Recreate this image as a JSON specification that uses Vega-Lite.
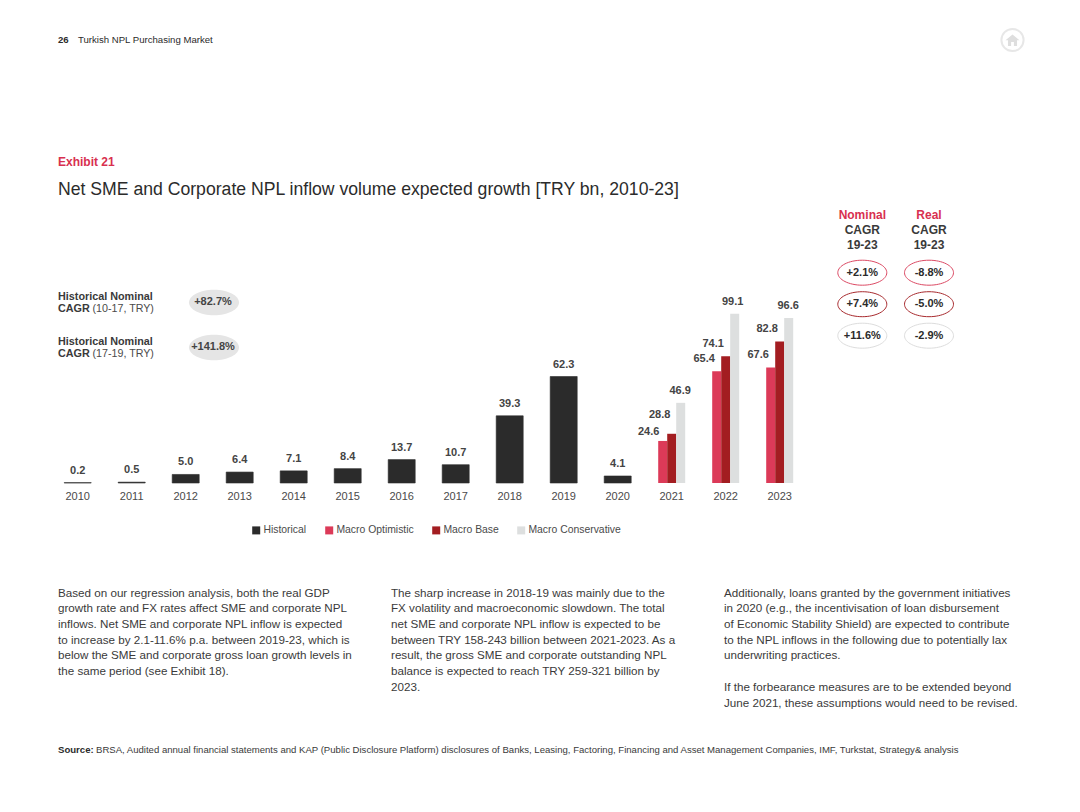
{
"$schema":"https://vega.github.io/schema/vega-lite/v6.json",
"width":756,"height":188,
"autosize":{"type":"none"},
"padding":{"left":50.7,"top":295,"right":273.3,"bottom":329},
"background":"white",
"config":{"view":{"stroke":null},"font":"Liberation Sans","text":{"font":"Liberation Sans"}},
"title":{"text":"Exhibit 21","subtitle":"Net SME and Corporate NPL inflow volume expected growth [TRY bn, 2010-23]","anchor":"start","frame":"group","dx":7.3,"offset":-175,"color":"#d8304f","fontSize":12,"fontWeight":"bold","subtitleColor":"#2b2b2b","subtitleFontSize":17.64,"subtitlePadding":12,"subtitleFontWeight":"normal","font":"Liberation Sans","subtitleFont":"Liberation Sans"},
"datasets":{
"bars":[
{"year":"2010","scenario":"Historical","value":0.2},
{"year":"2011","scenario":"Historical","value":0.5},
{"year":"2012","scenario":"Historical","value":5.0},
{"year":"2013","scenario":"Historical","value":6.4},
{"year":"2014","scenario":"Historical","value":7.1},
{"year":"2015","scenario":"Historical","value":8.4},
{"year":"2016","scenario":"Historical","value":13.7},
{"year":"2017","scenario":"Historical","value":10.7},
{"year":"2018","scenario":"Historical","value":39.3},
{"year":"2019","scenario":"Historical","value":62.3},
{"year":"2020","scenario":"Historical","value":4.1},
{"year":"2021","scenario":"Macro Optimistic","value":24.6},
{"year":"2021","scenario":"Macro Base","value":28.8},
{"year":"2021","scenario":"Macro Conservative","value":46.9},
{"year":"2022","scenario":"Macro Optimistic","value":65.4},
{"year":"2022","scenario":"Macro Base","value":74.1},
{"year":"2022","scenario":"Macro Conservative","value":99.1},
{"year":"2023","scenario":"Macro Optimistic","value":67.6},
{"year":"2023","scenario":"Macro Base","value":82.8},
{"year":"2023","scenario":"Macro Conservative","value":96.6}
],
"paragraphs":[
{"col":"left","line":1,"text":"Based on our regression analysis, both the real GDP"},
{"col":"left","line":2,"text":"growth rate and FX rates affect SME and corporate NPL"},
{"col":"left","line":3,"text":"inflows. Net SME and corporate NPL inflow is expected"},
{"col":"left","line":4,"text":"to increase by 2.1-11.6% p.a. between 2019-23, which is"},
{"col":"left","line":5,"text":"below the SME and corporate gross loan growth levels in"},
{"col":"left","line":6,"text":"the same period (see Exhibit 18)."},
{"col":"mid","line":1,"text":"The sharp increase in 2018-19 was mainly due to the"},
{"col":"mid","line":2,"text":"FX volatility and macroeconomic slowdown. The total"},
{"col":"mid","line":3,"text":"net SME and corporate NPL inflow is expected to be"},
{"col":"mid","line":4,"text":"between TRY 158-243 billion between 2021-2023. As a"},
{"col":"mid","line":5,"text":"result, the gross SME and corporate outstanding NPL"},
{"col":"mid","line":6,"text":"balance is expected to reach TRY 259-321 billion by"},
{"col":"mid","line":7,"text":"2023."},
{"col":"right","line":1,"text":"Additionally, loans granted by the government initiatives"},
{"col":"right","line":2,"text":"in 2020 (e.g., the incentivisation of loan disbursement"},
{"col":"right","line":3,"text":"of Economic Stability Shield) are expected to contribute"},
{"col":"right","line":4,"text":"to the NPL inflows in the following due to potentially lax"},
{"col":"right","line":5,"text":"underwriting practices."},
{"col":"right","line":7,"text":"If the forbearance measures are to be extended beyond"},
{"col":"right","line":8,"text":"June 2021, these assumptions would need to be revised."}
],
"histCagr":[
{"period":"10-17","detail":"(10-17, TRY)","cagr":"+82.7%"},
{"period":"17-19","detail":"(17-19, TRY)","cagr":"+141.8%"}
],
"cagr":[
{"metric":"Nominal","scenario":"Macro Optimistic","cagr":"+2.1%"},
{"metric":"Nominal","scenario":"Macro Base","cagr":"+7.4%"},
{"metric":"Nominal","scenario":"Macro Conservative","cagr":"+11.6%"},
{"metric":"Real","scenario":"Macro Optimistic","cagr":"-8.8%"},
{"metric":"Real","scenario":"Macro Base","cagr":"-5.0%"},
{"metric":"Real","scenario":"Macro Conservative","cagr":"-2.9%"}
]
},
"layer":[
{
"encoding":{
"x":{"field":"year","type":"nominal","scale":{"type":"band","paddingInner":0.5,"paddingOuter":0.25},"axis":{"title":null,"domain":false,"ticks":false,"labelAngle":0,"labelFontSize":11,"labelColor":"#4a4a4a","labelPadding":7,"grid":false}},
"y":{"field":"value","type":"quantitative","scale":{"domain":[0,110],"nice":false},"axis":null}
},
"layer":[
{"data":{"name":"bars"},"transform":[{"filter":"datum.scenario === 'Historical'"}],
"mark":{"type":"bar","stroke":"#2b2b2b","strokeWidth":0.6},
"encoding":{"color":{"field":"scenario","type":"nominal","scale":{"domain":["Historical","Macro Optimistic","Macro Base","Macro Conservative"],"range":["#2b2b2b","#dc3a58","#a31d21","#dddfdf"]},"legend":{"title":null,"orient":"none","direction":"horizontal","columns":4,"legendX":200.3,"legendY":230,"padding":0,"symbolType":"square","symbolSize":64,"symbolStrokeWidth":0,"labelFontSize":10.4,"labelColor":"#4a4a4a","labelOffset":2,"columnPadding":17}}}},
{"data":{"name":"bars"},"transform":[{"filter":"datum.scenario !== 'Historical'"}],
"mark":{"type":"bar"},
"encoding":{"color":{"field":"scenario","type":"nominal"},
"xOffset":{"field":"scenario","type":"nominal","scale":{"domain":["Macro Optimistic","Macro Base","Macro Conservative"],"paddingInner":0,"paddingOuter":0}}}},
{"data":{"name":"bars"},"transform":[{"filter":"datum.scenario === 'Historical'"}],
"mark":{"type":"text","fontSize":11,"fontWeight":"bold","color":"#444444","dy":-12},
"encoding":{"text":{"field":"value","type":"quantitative","format":".1f"}}},
{"data":{"name":"bars"},"transform":[{"filter":"datum.year !== '2021' && (datum.scenario === 'Macro Optimistic' || datum.scenario === 'Macro Base')"}],
"mark":{"type":"text","fontSize":11,"fontWeight":"bold","color":"#444444","dy":-12,"dx":-12.5},
"encoding":{"text":{"field":"value","type":"quantitative","format":".1f"},"xOffset":{"field":"scenario","type":"nominal"}}},
{"data":{"name":"bars"},"transform":[{"filter":"datum.year === '2021' && datum.scenario === 'Macro Optimistic'"}],
"mark":{"type":"text","fontSize":11,"fontWeight":"bold","color":"#444444","dy":-9,"dx":-14},
"encoding":{"text":{"field":"value","type":"quantitative","format":".1f"},"xOffset":{"field":"scenario","type":"nominal"}}},
{"data":{"name":"bars"},"transform":[{"filter":"datum.year === '2021' && datum.scenario === 'Macro Base'"}],
"mark":{"type":"text","fontSize":11,"fontWeight":"bold","color":"#444444","dy":-18.5,"dx":-12},
"encoding":{"text":{"field":"value","type":"quantitative","format":".1f"},"xOffset":{"field":"scenario","type":"nominal"}}},
{"data":{"name":"bars"},"transform":[{"filter":"datum.scenario === 'Macro Conservative' && datum.year !== '2022'"}],
"mark":{"type":"text","fontSize":11,"fontWeight":"bold","color":"#444444","dy":-12,"dx":-0.5},
"encoding":{"text":{"field":"value","type":"quantitative","format":".1f"},"xOffset":{"field":"scenario","type":"nominal"}}},
{"data":{"name":"bars"},"transform":[{"filter":"datum.scenario === 'Macro Conservative' && datum.year === '2022'"}],
"mark":{"type":"text","fontSize":11,"fontWeight":"bold","color":"#444444","dy":-12,"dx":-2},
"encoding":{"text":{"field":"value","type":"quantitative","format":".1f"},"xOffset":{"field":"scenario","type":"nominal"}}}
]
},
{
"data":{"name":"paragraphs"},
"mark":{"type":"text","align":"left","fontSize":11.65,"color":"#3a3a3a"},
"encoding":{
"x":{"field":"col","type":"nominal","scale":{"type":"point","padding":0,"domain":["left","mid","right"],"range":[7.3,673.3]},"axis":null},
"y":{"field":"line","type":"quantitative","scale":{"domain":[1,8],"range":[298.6,408.6],"nice":false,"zero":false},"axis":null},
"text":{"field":"text"}
}
},
{
"data":{"values":[{"place":"header","slot":"page"},{"place":"source","slot":"page"},{"place":"header","slot":"home"}]},
"encoding":{
"x":{"field":"slot","type":"nominal","scale":{"type":"point","padding":0,"domain":["page","home"],"range":[7.3,961.8]},"axis":null},
"y":{"field":"place","type":"nominal","scale":{"type":"point","padding":0,"domain":["header","source"],"range":[-255,455]},"axis":null}
},
"layer":[
{"transform":[{"filter":"datum.place === 'header' && datum.slot === 'page'"}],"mark":{"type":"text","align":"left","fontSize":9.6,"fontWeight":"bold","color":"#2b2b2b","text":"26"}},
{"transform":[{"filter":"datum.place === 'header' && datum.slot === 'page'"}],"mark":{"type":"text","align":"left","fontSize":9.6,"color":"#2b2b2b","dx":20,"text":"Turkish NPL Purchasing Market"}},
{"transform":[{"filter":"datum.place === 'source'"}],"mark":{"type":"text","align":"left","fontSize":9.6,"fontWeight":"bold","color":"#2b2b2b","text":"Source:"}},
{"transform":[{"filter":"datum.place === 'source'"}],"mark":{"type":"text","align":"left","fontSize":9.57,"color":"#3a3a3a","dx":38,"text":"BRSA, Audited annual financial statements and KAP (Public Disclosure Platform) disclosures of Banks, Leasing, Factoring, Financing and Asset Management Companies, IMF, Turkstat, Strategy& analysis"}},
{"transform":[{"filter":"datum.slot === 'home'"}],"mark":{"type":"point","shape":"circle","size":491,"filled":false,"stroke":"#dedede","strokeWidth":2}},
{"transform":[{"filter":"datum.slot === 'home'"}],"mark":{"type":"point","filled":true,"fill":"#dedede","strokeWidth":0,"opacity":1,"size":196,"shape":"M-1,0.05L0,-0.8L1,0.05L0.65,0.05L0.65,0.85L0.2,0.85L0.2,0.3L-0.2,0.3L-0.2,0.85L-0.65,0.85L-0.65,0.05Z"}}
]
},
{
"data":{"name":"histCagr"},
"encoding":{
"x":{"datum":"label","type":"nominal","scale":{"type":"point","padding":0,"domain":["label","pill"],"range":[7.3,163.3]},"axis":null},
"y":{"field":"period","type":"nominal","scale":{"type":"point","padding":0,"domain":["10-17","17-19"],"range":[8,53]},"axis":null}
},
"layer":[
{"mark":{"type":"text","align":"left","fontSize":10.8,"fontWeight":"bold","color":"#3a3a3a","dy":-6.3,"text":"Historical Nominal"}},
{"mark":{"type":"text","align":"left","fontSize":10.8,"fontWeight":"bold","color":"#3a3a3a","dy":6,"text":"CAGR"}},
{"mark":{"type":"text","align":"left","fontSize":10.7,"color":"#4a4a4a","dy":6,"dx":34.5},"encoding":{"text":{"field":"detail"}}},
{"mark":{"type":"point","filled":true,"fill":"#e5e5e5","strokeWidth":0,"opacity":1,"size":2500,"dy":-1.3,"shape":"M-1,-0.02A1,0.51,0,1,1,1,-0.02A1,0.51,0,1,1,-1,-0.02Z"},"encoding":{"x":{"datum":"pill","type":"nominal"}}},
{"mark":{"type":"text","fontSize":11,"fontWeight":"bold","color":"#444444","dy":-1.3,"dx":-1},"encoding":{"x":{"datum":"pill","type":"nominal"},"text":{"field":"cagr"}}}
]
},
{
"data":{"values":[{"metric":"Nominal"},{"metric":"Real"}]},
"encoding":{
"x":{"field":"metric","type":"nominal","scale":{"type":"point","padding":0,"domain":["Nominal","Real"],"range":[811.6,878.3]},"axis":null},
"y":{"datum":1,"type":"quantitative","scale":{"domain":[1,3],"range":[-80.3,-50.3],"nice":false,"zero":false},"axis":null}
},
"layer":[
{"mark":{"type":"text","fontSize":12,"fontWeight":"bold","color":"#d8304f"},"encoding":{"text":{"field":"metric"}}},
{"mark":{"type":"text","fontSize":12,"fontWeight":"bold","color":"#3a3a3a","text":"CAGR"},"encoding":{"y":{"datum":2,"type":"quantitative"}}},
{"mark":{"type":"text","fontSize":12,"fontWeight":"bold","color":"#3a3a3a","text":"19-23"},"encoding":{"y":{"datum":3,"type":"quantitative"}}}
]
},
{
"data":{"name":"cagr"},
"encoding":{
"x":{"field":"metric","type":"nominal","scale":{"type":"point","padding":0,"domain":["Nominal","Real"],"range":[811.6,878.3]},"axis":null},
"y":{"field":"scenario","type":"nominal","scale":{"type":"point","padding":0,"domain":["Macro Optimistic","Macro Base","Macro Conservative"],"range":[-22.3,40.7]},"axis":null}
},
"layer":[
{"mark":{"type":"point","filled":false,"fill":"white","fillOpacity":1,"strokeWidth":1,"opacity":1,"size":2401,"shape":"M-1,0A1,0.51,0,1,1,1,0A1,0.51,0,1,1,-1,0Z"},
"encoding":{"stroke":{"field":"scenario","type":"nominal","scale":{"domain":["Macro Optimistic","Macro Base","Macro Conservative"],"range":["#dc4a64","#a82a2e","#dddddd"]},"legend":null}}},
{"mark":{"type":"text","fontSize":11,"fontWeight":"bold","color":"#2b2b2b"},"encoding":{"text":{"field":"cagr"}}}
]
}
],
"resolve":{"scale":{"x":"independent","y":"independent"}}
}
